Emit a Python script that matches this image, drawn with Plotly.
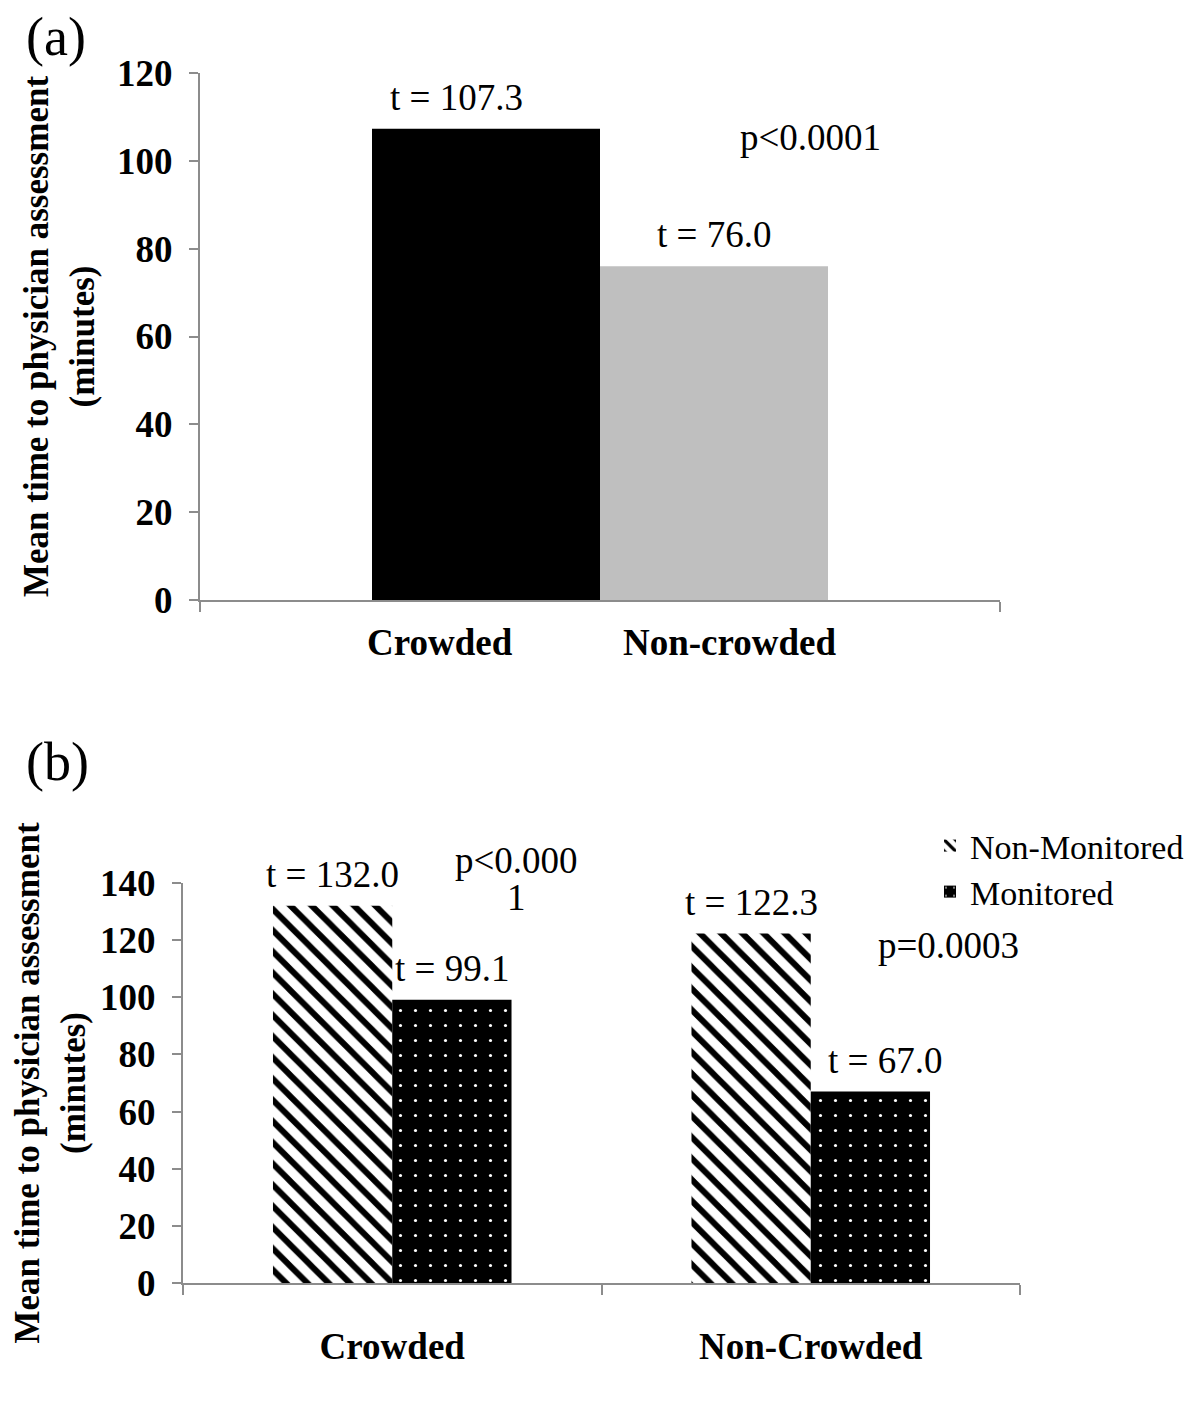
import plotly.graph_objects as go

W, H = 1200, 1402
FONT = "Liberation Serif, Times New Roman, serif"
GRAY = "#8C8C8C"
PAGE_OFF = 8  # browser body margin

# ---------------- data: panel (a) ----------------
a_groups = ["Crowded", "Non-crowded"]
a_values = [107.3, 76.0]
a_colors = ["#000000", "#BFBFBF"]
a_category = "All"
a_p_text = "p<0.0001"
a_yticks = [0, 20, 40, 60, 80, 100, 120]

# ---------------- data: panel (b) ----------------
b_categories = ["Crowded", "Non-Crowded"]
b_series = ["Non-Monitored", "Monitored"]
b_nonmonitored = [132.0, 122.3]
b_monitored = [99.1, 67.0]
b_p_lines = [["p<0.000", "1"], ["p=0.0003"]]
b_yticks = [0, 20, 40, 60, 80, 100, 120, 140]

y_title = "Mean time to physician assessment<br>(minutes)"


# pixel layout helpers (reference-image pixel -> paper fraction)
def px_x(p):
    return (p - PAGE_OFF) / W


def px_y(p):
    return 1 - (p - PAGE_OFF) / H


A_X = (200, 1000)
A_Y = (73, 600)
B_X = (183, 1020)
B_Y = (883, 1283)
BARGAP = 0.43

fig = go.Figure()

# panel (a) bars
for name, val, col in zip(a_groups, a_values, a_colors):
    fig.add_trace(go.Bar(
        x=[a_category], y=[val], name=name, showlegend=False,
        marker=dict(color=col, line=dict(width=0)),
        xaxis="x", yaxis="y", hoverinfo="skip"))

# panel (b) bars
fig.add_trace(go.Bar(
    x=b_categories, y=b_nonmonitored, name=b_series[0], legend="legend",
    marker=dict(color="white", line=dict(width=0),
                pattern=dict(shape="\\", fgcolor="#000000", bgcolor="#FFFFFF",
                             fgopacity=1, fillmode="replace",
                             size=15, solidity=0.4)),
    xaxis="x2", yaxis="y2", hoverinfo="skip"))
fig.add_trace(go.Bar(
    x=b_categories, y=b_monitored, name=b_series[1], legend="legend2",
    marker=dict(color="black", line=dict(width=0),
                pattern=dict(shape=".", fgcolor="#FFFFFF", bgcolor="#000000",
                             fgopacity=1, fillmode="replace",
                             size=15, solidity=0.035)),
    xaxis="x2", yaxis="y2", hoverinfo="skip"))

ann = []
FS = 37
txt = dict(family=FONT, size=FS, color="black")
bold = dict(family=FONT, size=FS, color="black", weight="bold")
title_font = dict(family=FONT, size=35, color="black", weight="bold")

# value labels panel (a)
a_cat_px = A_X[1] - A_X[0]
a_bw = (1 - BARGAP) * a_cat_px / len(a_groups)
a_label_shift = [-30, 0]
for i, val in enumerate(a_values):
    off = (i - (len(a_groups) - 1) / 2) * a_bw
    ann.append(dict(x=a_category, y=val, xref="x", yref="y", text=f"t = {val:.1f}",
                    showarrow=False, xanchor="center", yanchor="bottom",
                    xshift=off + a_label_shift[i], yshift=9, font=txt))

# value labels panel (b)
b_cat_px = (B_X[1] - B_X[0]) / len(b_categories)
b_bw = (1 - BARGAP) * b_cat_px / len(b_series)
b_label_shift = [[0, 0], [0, 15]]
for s, vals in enumerate([b_nonmonitored, b_monitored]):
    off = (s - 0.5) * b_bw
    for c, val in enumerate(vals):
        ann.append(dict(x=b_categories[c], y=val, xref="x2", yref="y2",
                        text=f"t = {val:.1f}", showarrow=False,
                        xanchor="center", yanchor="bottom",
                        xshift=off + b_label_shift[s][c], yshift=9, font=txt))


def paper_text(xc, yc, text, font, xanchor="center"):
    return dict(x=px_x(xc), y=px_y(yc), xref="paper", yref="paper", text=text,
                showarrow=False, xanchor=xanchor, yanchor="middle", font=font)


# p values
ann.append(paper_text(810, 138, a_p_text, txt))
ann.append(paper_text(516, 860, b_p_lines[0][0], txt))
ann.append(paper_text(516, 897, b_p_lines[0][1], txt))
ann.append(paper_text(948, 945, b_p_lines[1][0], txt))

# panel (a) category labels
for name, xc in zip(a_groups, [440, 730]):
    ann.append(paper_text(xc, 642, name, bold))

# panel letters
letter_font = dict(family=FONT, size=54, color="black")
ann.append(paper_text(24, 37, "(a)", letter_font, xanchor="left"))
ann.append(paper_text(24, 762, "(b)", letter_font, xanchor="left"))

yaxis_common = dict(
    showgrid=False, zeroline=False, ticks="outside", ticklen=9, tickcolor=GRAY,
    tickwidth=2, showline=True, linecolor=GRAY, linewidth=2,
    tickfont=bold, ticklabelstandoff=9,
    title=dict(text=y_title, font=title_font, standoff=12),
)
xaxis_common = dict(
    type="category", showgrid=False, zeroline=False, ticks="outside", ticklen=10,
    tickcolor=GRAY, tickwidth=2, showline=True, linecolor=GRAY, linewidth=2,
    tickson="boundaries",
)

legend_common = dict(xanchor="left", yanchor="middle",
                     font=dict(family=FONT, size=34, color="black"),
                     bgcolor="rgba(0,0,0,0)", itemwidth=30)

fig.update_layout(
    width=W, height=H,
    margin=dict(l=0, r=0, t=0, b=0),
    paper_bgcolor="white", plot_bgcolor="white",
    barmode="group", bargap=BARGAP, bargroupgap=0,
    font=dict(family=FONT, color="black"),
    xaxis=dict(xaxis_common, domain=[px_x(A_X[0]), px_x(A_X[1])], anchor="y",
               showticklabels=False),
    yaxis=dict(yaxis_common, domain=[px_y(A_Y[1]), px_y(A_Y[0])], anchor="x",
               range=[0, 120], tickvals=a_yticks, automargin=False),
    xaxis2=dict(xaxis_common, domain=[px_x(B_X[0]), px_x(B_X[1])], anchor="y2",
                tickfont=bold, ticklabelstandoff=30),
    yaxis2=dict(yaxis_common, domain=[px_y(B_Y[1]), px_y(B_Y[0])], anchor="x2",
                range=[0, 140], tickvals=b_yticks, automargin=False),
    legend=dict(legend_common, x=px_x(930), y=px_y(846)),
    legend2=dict(legend_common, x=px_x(930), y=px_y(892)),
    annotations=ann,
)

fig.write_html("out.html")
